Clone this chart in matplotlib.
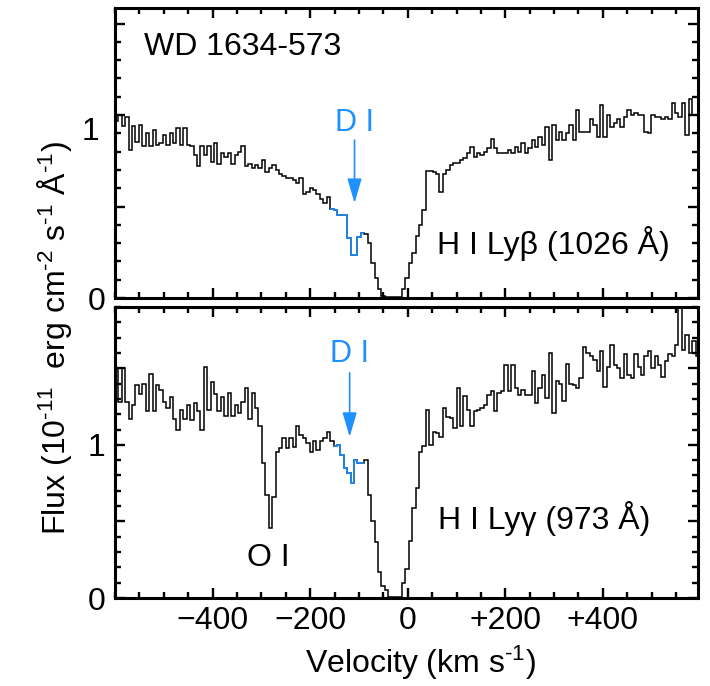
import matplotlib
matplotlib.use("Agg")
import matplotlib.pyplot as plt
import numpy as np
from matplotlib.ticker import FixedFormatter, FixedLocator, MultipleLocator
from matplotlib.transforms import blended_transform_factory

plt.rcParams["font.family"] = ["Liberation Sans", "DejaVu Sans"]
plt.rcParams["mathtext.default"] = "regular"

# velocity grid of the binned spectra (km/s)
V_START = -600.0
V_STEP = 7.0

# H I Ly-beta (1026 A), flux in 1e-11 erg cm-2 s-1 A-1
LYB_FLUX = [
    0.97, 1.00, 0.94, 0.99, 0.81, 0.94, 0.85, 0.945, 0.83, 0.90,
    0.83, 0.92, 0.835, 0.845, 0.89, 0.835, 0.90, 0.845, 0.93, 0.835,
    0.93, 0.835, 0.83, 0.78, 0.72, 0.83, 0.78, 0.83, 0.745, 0.845,
    0.735, 0.79, 0.77, 0.79, 0.735, 0.78, 0.80, 0.83, 0.72, 0.735,
    0.71, 0.725, 0.71, 0.755, 0.69, 0.71, 0.725, 0.70, 0.68, 0.665,
    0.655, 0.655, 0.645, 0.627, 0.655, 0.57, 0.58, 0.60, 0.59, 0.57,
    0.54, 0.52, 0.55, 0.485, 0.48, 0.455, 0.455, 0.455, 0.33, 0.235,
    0.235, 0.335, 0.355, 0.35, 0.30, 0.19, 0.11, 0.05, 0.01, 0.007,
    0.007, 0.007, 0.007, 0.007, 0.05, 0.11, 0.19, 0.245, 0.34, 0.40,
    0.48, 0.696, 0.696, 0.69, 0.68, 0.58, 0.68, 0.70, 0.727, 0.736,
    0.736, 0.754, 0.763, 0.79, 0.827, 0.772, 0.79, 0.78, 0.80, 0.818,
    0.87, 0.818, 0.79, 0.79, 0.79, 0.81, 0.79, 0.827, 0.80, 0.845,
    0.79, 0.818, 0.863, 0.827, 0.88, 0.836, 0.936, 0.754, 0.945, 0.863,
    0.91, 0.863, 0.90, 0.945, 0.863, 1.027, 0.91, 0.91, 0.91, 0.98,
    0.945, 0.88, 1.055, 0.88, 1.0, 0.936, 0.954, 0.98, 0.936, 0.99,
    1.027, 1.0, 1.01, 1.0, 1.0, 0.91, 0.90, 1.0, 0.99, 0.99,
    0.98, 0.99, 0.98, 1.064, 1.01, 0.99, 1.064, 0.89, 1.09, 1.0, 1.0,
]

# H I Ly-gamma (973 A)
LYG_FLUX = [
    1.50, 1.28, 1.50, 1.28, 1.17, 1.26, 1.39, 1.33, 1.40, 1.22,
    1.46, 1.22, 1.39, 1.36, 1.28, 1.24, 1.31, 1.17, 1.10, 1.23,
    1.17, 1.26, 1.16, 1.27, 1.22, 1.10, 1.51, 1.23, 1.41, 1.33,
    1.22, 1.31, 1.19, 1.34, 1.19, 1.26, 1.21, 1.28, 1.37, 1.17,
    1.34, 1.24, 1.12, 0.88, 0.67, 0.455, 0.66, 0.956, 0.978, 1.044,
    0.978, 1.044, 0.989, 1.12, 1.065, 1.044, 1.01, 0.956, 1.022, 0.967,
    1.022, 1.044, 1.087, 1.022, 0.99, 1.0, 0.935, 0.847, 0.815, 0.75,
    0.90, 0.88, 0.88, 0.90, 0.673, 0.50, 0.368, 0.172, 0.08, 0.05,
    0.008, 0.008, 0.008, 0.008, 0.10, 0.19, 0.37, 0.586, 0.717, 0.956,
    0.99, 1.23, 1.0, 1.087, 1.076, 1.054, 1.24, 1.18, 1.174, 1.109,
    1.37, 1.12, 1.316, 1.229, 1.12, 1.218, 1.229, 1.24, 1.26, 1.327,
    1.35, 1.218, 1.338, 1.35, 1.52, 1.35, 1.52, 1.37, 1.327, 1.36,
    1.327, 1.327, 1.48, 1.272, 1.37, 1.457, 1.305, 1.60, 1.207, 1.414,
    1.40, 1.283, 1.53, 1.40, 1.39, 1.37, 1.436, 1.64, 1.60, 1.578,
    1.556, 1.48, 1.61, 1.38, 1.51, 1.65, 1.52, 1.50, 1.436, 1.59,
    1.457, 1.436, 1.59, 1.51, 1.457, 1.578, 1.61, 1.50, 1.578, 1.52,
    1.446, 1.545, 1.59, 1.578, 1.65, 1.95, 1.62, 1.72, 1.60, 1.675, 1.58,
]

# velocity span of the D I feature (drawn in blue), km/s
LYB_DI_RANGE = (-159.0, -89.0)
LYG_DI_RANGE = (-152.0, -89.0)
LYB_DI_ARROW_V = -109.0
LYG_DI_ARROW_V = -119.0

X_MAJOR = [-400, -200, 0, 200, 400]
X_LABELS = ["\u2212400", "\u2212200", "0", "+200", "+400"]
Y_MAJOR = [0, 0.5, 1.0, 1.5]

BLUE = "#1e90ff"
FS = 23
HY = "\u2010"  # short hyphen used in the exponents


def draw_spectrum(ax, flux, di_range):
    flux = np.asarray(flux)
    edges = V_START + V_STEP * np.arange(len(flux) + 1)
    ax.stairs(flux, edges, baseline=None, color="black", lw=1.1)
    lo = int(np.searchsorted(edges, di_range[0]))
    hi = int(np.searchsorted(edges, di_range[1]))
    ax.stairs(flux[lo:hi], edges[lo:hi + 1], baseline=None, color=BLUE, lw=1.2)


def style_axes(ax, ymax, show_xlabels, ylabels):
    ax.set_xlim(-600, 595)
    ax.set_ylim(0, ymax)
    ax.xaxis.set_major_locator(FixedLocator(X_MAJOR))
    ax.xaxis.set_minor_locator(MultipleLocator(50))
    ax.yaxis.set_major_locator(FixedLocator(Y_MAJOR))
    ax.yaxis.set_minor_locator(MultipleLocator(0.1))
    ax.yaxis.set_major_formatter(FixedFormatter(ylabels))
    if show_xlabels:
        ax.xaxis.set_major_formatter(FixedFormatter(X_LABELS))
    ax.tick_params(which="both", direction="in", top=True, right=True,
                   labelbottom=show_xlabels, labelsize=FS, width=1.7)
    ax.tick_params(which="major", length=7.5)
    ax.tick_params(which="minor", length=4.0)
    ax.tick_params(axis="y", pad=7)
    ax.tick_params(axis="x", pad=6)
    for spine in ax.spines.values():
        spine.set_linewidth(2.2)


def di_marker(ax, v, text_y, tail, tip):
    ax.text(v, text_y, "D I", color=BLUE, fontsize=22, ha="center", va="center")
    ax.annotate("", xy=(v, tip), xytext=(v, tail),
                arrowprops=dict(arrowstyle="-|>,head_length=0.75,head_width=0.22",
                                color=BLUE, lw=1.2, mutation_scale=20,
                                shrinkA=0, shrinkB=0))


def main():
    fig = plt.figure(figsize=(7.1, 6.86), dpi=100)
    ax_b = fig.add_axes([115 / 710, 1 - 298 / 686, 583 / 710, 290 / 686])
    ax_g = fig.add_axes([115 / 710, 1 - 598 / 686, 583 / 710, 291 / 686])

    draw_spectrum(ax_b, LYB_FLUX, LYB_DI_RANGE)
    draw_spectrum(ax_g, LYG_FLUX, LYG_DI_RANGE)

    style_axes(ax_b, 1.585, False, ["0", "", "", ""])
    style_axes(ax_g, 1.90, True, ["0", "", "1", ""])

    # the "1" of the upper panel sits a little below its tick in the original
    trans = blended_transform_factory(ax_b.transAxes, ax_b.transData)
    ax_b.text(-0.026, 0.907, "1", transform=trans, ha="right", va="center", fontsize=FS)

    ax_b.text(-540, 1.371, "WD 1634-573", fontsize=FS, ha="left", va="center")
    ax_b.text(60, 0.30, "H I Ly\u03b2 (1026 \u00c5)", fontsize=FS, ha="left", va="center")
    ax_g.text(62, 0.52, "H I Ly\u03b3 (973 \u00c5)", fontsize=FS, ha="left", va="center")
    ax_g.text(-285, 0.26, "O I", fontsize=FS, ha="center", va="center")

    di_marker(ax_b, LYB_DI_ARROW_V, 0.956, 0.863, 0.519)
    di_marker(ax_g, LYG_DI_ARROW_V, 1.595, 1.47, 1.052)

    fig.text(420 / 710, 1 - 663 / 686, f"Velocity (km s$^{{{HY}1}}$)", fontsize=FS,
             ha="center", va="center")
    fig.text(55 / 710, 1 - 338 / 686,
             f"Flux (10$^{{{HY}11}}$  erg cm$^{{{HY}2}}$ s$^{{{HY}1}}$ \u00c5$^{{{HY}1}}$)",
             fontsize=FS, rotation=90, ha="center", va="center")

    fig.savefig("out.png", dpi=100)
    plt.close(fig)


if __name__ == "__main__":
    main()
